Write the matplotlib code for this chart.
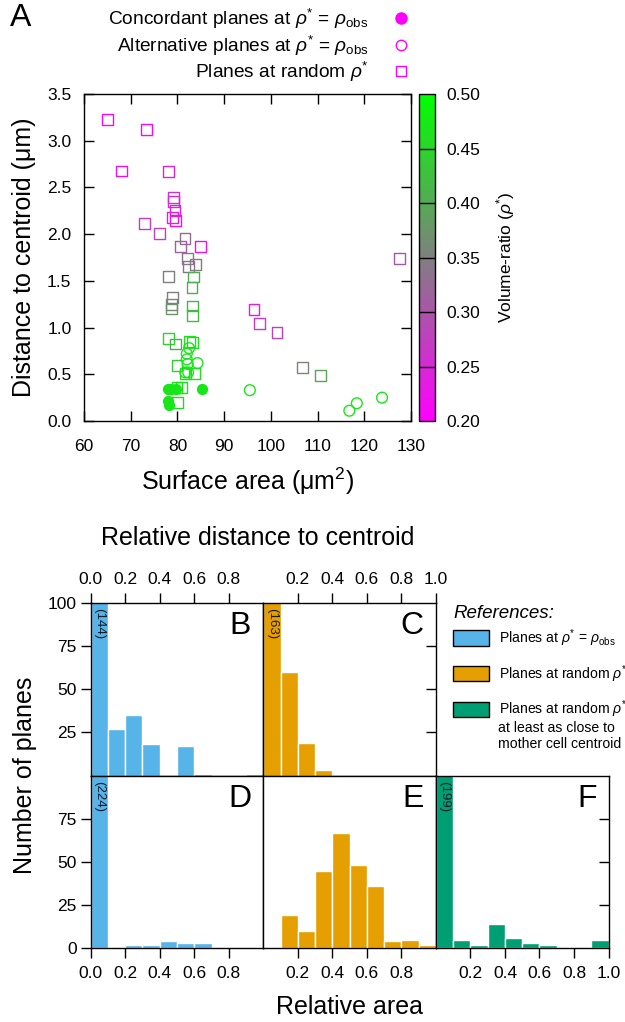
import matplotlib
matplotlib.use("Agg")
import matplotlib.pyplot as plt
import numpy as np
from matplotlib.colors import LinearSegmentedColormap, Normalize
from matplotlib.cm import ScalarMappable
from matplotlib.lines import Line2D
from matplotlib.patches import Patch

plt.rcParams['font.family'] = ['Liberation Sans', 'DejaVu Sans']
plt.rcParams['mathtext.fontset'] = 'custom'
plt.rcParams['mathtext.rm'] = 'Liberation Sans'
plt.rcParams['mathtext.it'] = 'Liberation Sans:italic'
plt.rcParams['axes.linewidth'] = 1.0

# ---- panel A data ----
# planes at random rho* : surface area, distance, volume ratio
sq_area = [65.0, 73.3, 68.1, 78.1, 79.2, 79.2, 79.5, 78.9, 79.6, 73.0, 76.2,
           81.6, 80.7, 85.0, 82.1, 82.4, 83.8, 127.5, 78.1, 83.5, 83.1, 78.9,
           78.7, 78.7, 83.2, 83.2, 96.4, 97.6, 101.3, 106.7, 110.7, 78.1, 79.6,
           82.6, 83.3, 79.9, 83.7, 81.8, 79.9, 80.9, 80.0]
sq_dist = [3.23, 3.12, 2.675, 2.67, 2.39, 2.35, 2.25, 2.175, 2.15, 2.11, 2.01,
           1.95, 1.87, 1.87, 1.74, 1.65, 1.675, 1.74, 1.55, 1.54, 1.43, 1.325,
           1.25, 1.20, 1.23, 1.13, 1.19, 1.04, 0.95, 0.57, 0.49, 0.88, 0.825,
           0.85, 0.84, 0.59, 0.51, 0.51, 0.357, 0.357, 0.20]
sq_rho = [0.21, 0.21, 0.22, 0.24, 0.26, 0.25, 0.24, 0.23, 0.22, 0.27, 0.28,
          0.33, 0.31, 0.22, 0.34, 0.33, 0.35, 0.30, 0.35, 0.40, 0.40, 0.35,
          0.36, 0.37, 0.41, 0.42, 0.23, 0.27, 0.28, 0.36, 0.39, 0.45, 0.40,
          0.46, 0.45, 0.44, 0.46, 0.45, 0.46, 0.47, 0.45]

# alternative planes at rho* = rho_obs
alt_area = [82.5, 82.0, 82.0, 82.2, 84.3, 82.3, 81.7, 95.5, 116.8, 118.4, 123.8]
alt_dist = [0.78, 0.72, 0.66, 0.61, 0.62, 0.52, 0.52, 0.33, 0.11, 0.19, 0.25]

# concordant planes at rho* = rho_obs
con_area = [77.9, 78.7, 79.6, 85.2, 78.0, 78.1]
con_dist = [0.34, 0.34, 0.34, 0.34, 0.21, 0.17]

rho_obs = 0.47

# ---- histogram data (bins of width 0.1) ----
bins = np.arange(0, 1.0, 0.1)
hist_B = [144, 27, 35, 18, 0, 17, 1, 0, 0, 1]
hist_C = [163, 60, 19, 3, 0, 0, 0, 0, 0, 0]
hist_D = [224, 0, 2, 2, 4, 3, 3, 0, 0, 0]
hist_E = [0, 19, 10, 45, 67, 48, 36, 4, 5, 2]
hist_F = [199, 5, 2, 14, 6, 3, 2, 0, 0, 5]

col_blue = '#56B4E9'
col_orange = '#E69F00'
col_green = '#009E73'

W, H = 625, 1022
fig = plt.figure(figsize=(W / 100, H / 100), dpi=100)


def box(l, t, r, b):
    return [l / W, 1 - b / H, (r - l) / W, (b - t) / H]


cmap = LinearSegmentedColormap.from_list('mg', ['#ff00ff', '#808080', '#00ff00'])
norm = Normalize(0.2, 0.5)

# ---- panel A ----
ax = fig.add_axes(box(84, 94, 411, 421))
ax.scatter(sq_area, sq_dist, s=60, marker='s', facecolors='none',
           edgecolors=cmap(norm(np.array(sq_rho))), linewidths=1.0, zorder=3)
ax.scatter(alt_area, alt_dist, s=60, marker='o', facecolors='none',
           edgecolors=[cmap(norm(rho_obs))], linewidths=1.0, zorder=3)
ax.scatter(con_area, con_dist, s=66, marker='o',
           color=cmap(norm(rho_obs)), linewidths=0, zorder=4)
ax.set_xlim(60, 130)
ax.set_ylim(0, 3.5)
ax.set_xticks(np.arange(60, 131, 10))
ax.set_yticks(np.arange(0, 3.51, 0.5))
ax.set_yticklabels([f'{v:.1f}' for v in np.arange(0, 3.51, 0.5)])
ax.tick_params(direction='in', length=7, width=1, top=True, right=True,
               labelsize=12.5)
ax.tick_params(axis='x', pad=13)
ax.tick_params(axis='y', pad=9)
ax.set_xlabel(r'Surface area (μm$^{2}$)', fontsize=18, labelpad=8)
ax.set_ylabel('Distance to centroid (μm)', fontsize=18, labelpad=8)

cax = fig.add_axes(box(419, 94, 435, 421))
cb = fig.colorbar(ScalarMappable(norm=norm, cmap=cmap), cax=cax)
ticks = np.arange(0.2, 0.51, 0.05)
cb.set_ticks(ticks)
cb.set_ticklabels([f'{t:.2f}' for t in ticks])
cax.tick_params(length=0, pad=8, labelsize=12.5)
for t in ticks[1:-1]:
    cax.axhline(t, color='black', lw=1)
cb.outline.set_linewidth(1.0)
cb.set_label(r'Volume-ratio ($\rho^{*}$)', fontsize=12.5, labelpad=10)

fig.text(10 / W, 1 - 18 / H, 'A', fontsize=23, ha='left', va='center')

mag = '#ff00ff'
handles = [
    Line2D([], [], ls='none', marker='o', ms=8, color=mag),
    Line2D([], [], ls='none', marker='o', ms=7.5, mfc='none', mec=mag, mew=1),
    Line2D([], [], ls='none', marker='s', ms=7.5, mfc='none', mec=mag, mew=1),
]
labels = [r'Concordant planes at $\rho^{*}$ = $\rho_{\mathrm{obs}}$',
          r'Alternative planes at $\rho^{*}$ = $\rho_{\mathrm{obs}}$',
          r'Planes at random $\rho^{*}$']
fig.legend(handles, labels, loc='upper right', bbox_to_anchor=(411 / W, 1 - 7 / H),
           markerfirst=False, frameon=False, fontsize=13.8, handlelength=1,
           handletextpad=1.2, labelspacing=0.12, borderpad=0, borderaxespad=0)

# ---- histograms ----
L0, L1, L2, L3 = 90.7, 263.3, 435.9, 608.5
T0, T1, T2 = 602.7, 775.5, 948.3

panels = [
    ('B', hist_B, col_blue, (L0, T0, L1, T1)),
    ('C', hist_C, col_orange, (L1, T0, L2, T1)),
    ('D', hist_D, col_blue, (L0, T1, L1, T2)),
    ('E', hist_E, col_orange, (L1, T1, L2, T2)),
    ('F', hist_F, col_green, (L2, T1, L3, T2)),
]
axes = {}
for name, counts, col, (l, t, r, b) in panels:
    a = fig.add_axes(box(l, t, r, b))
    a.bar(bins, counts, width=0.1, align='edge', color=col,
          edgecolor='white', linewidth=1.0)
    a.set_xlim(0, 1)
    a.set_ylim(0, 100)
    if counts[0] > 100:
        a.text(0.05, 97, f'({counts[0]})', rotation=270, ha='center', va='top',
               fontsize=9.5, color='#1a1a2a')
    a.text(0.93, 0.95, name, transform=a.transAxes, ha='right', va='top',
           fontsize=23)
    a.tick_params(width=1, length=7, labelsize=12.5)
    axes[name] = a

for name in 'BC':
    a = axes[name]
    a.xaxis.tick_top()
    a.tick_params(axis='x', direction='out', pad=4)
for name in 'DEF':
    axes[name].tick_params(axis='x', direction='out', pad=6)

axes['B'].set_xticks([0, 0.2, 0.4, 0.6, 0.8])
axes['C'].set_xticks([0.2, 0.4, 0.6, 0.8, 1.0])
axes['D'].set_xticks([0, 0.2, 0.4, 0.6, 0.8])
axes['E'].set_xticks([0.2, 0.4, 0.6, 0.8])
axes['F'].set_xticks([0.2, 0.4, 0.6, 0.8, 1.0])
for name in 'BCDEF':
    a = axes[name]
    a.set_xticklabels([f'{v:.1f}' for v in a.get_xticks()])

axes['B'].set_yticks([25, 50, 75, 100])
axes['D'].set_yticks([0, 25, 50, 75])
for name in 'BD':
    axes[name].tick_params(axis='y', direction='out', pad=3)
for name in 'CE':
    axes[name].set_yticks([25, 50, 75])
axes['E'].tick_params(axis='y', left=False, labelleft=False)
axes['C'].tick_params(axis='y', left=False, labelleft=False, right=True,
                      direction='in')
axes['F'].set_yticks([25, 50, 75])
axes['F'].tick_params(axis='y', left=False, labelleft=False, right=True,
                      direction='in')

fig.text(258 / W, 1 - 538 / H, 'Relative distance to centroid', fontsize=18,
         ha='center', va='center')
fig.text(349 / W, 1 - 1007 / H, 'Relative area', fontsize=18,
         ha='center', va='center')
fig.text(25 / W, 1 - 775 / H, 'Number of planes', fontsize=18, rotation=90,
         ha='center', va='center')

# reference legend
fig.text(453 / W, 1 - 613 / H, 'References:', fontsize=13.5, style='italic',
         ha='left', va='center')
leg_handles = [
    Patch(facecolor=col_blue, edgecolor='black', linewidth=1.0),
    Patch(facecolor=col_orange, edgecolor='black', linewidth=1.0),
    Patch(facecolor=col_green, edgecolor='black', linewidth=1.0),
]
leg_labels = [r'Planes at $\rho^{*}$ = $\rho_{\mathrm{obs}}$',
              r'Planes at random $\rho^{*}$',
              r'Planes at random $\rho^{*}$']
fig.legend(leg_handles, leg_labels, loc='upper left',
           bbox_to_anchor=(453 / W, 1 - 627 / H), frameon=False,
           fontsize=10.1, handlelength=2.6, handleheight=1.3,
           handletextpad=0.65, labelspacing=1.02, borderpad=0,
           borderaxespad=0)
fig.text(498 / W, 1 - 721 / H, 'at least as close to\nmother cell centroid',
         fontsize=10.1, ha='left', va='top', linespacing=1.2)

fig.savefig('out.png', dpi=100)
